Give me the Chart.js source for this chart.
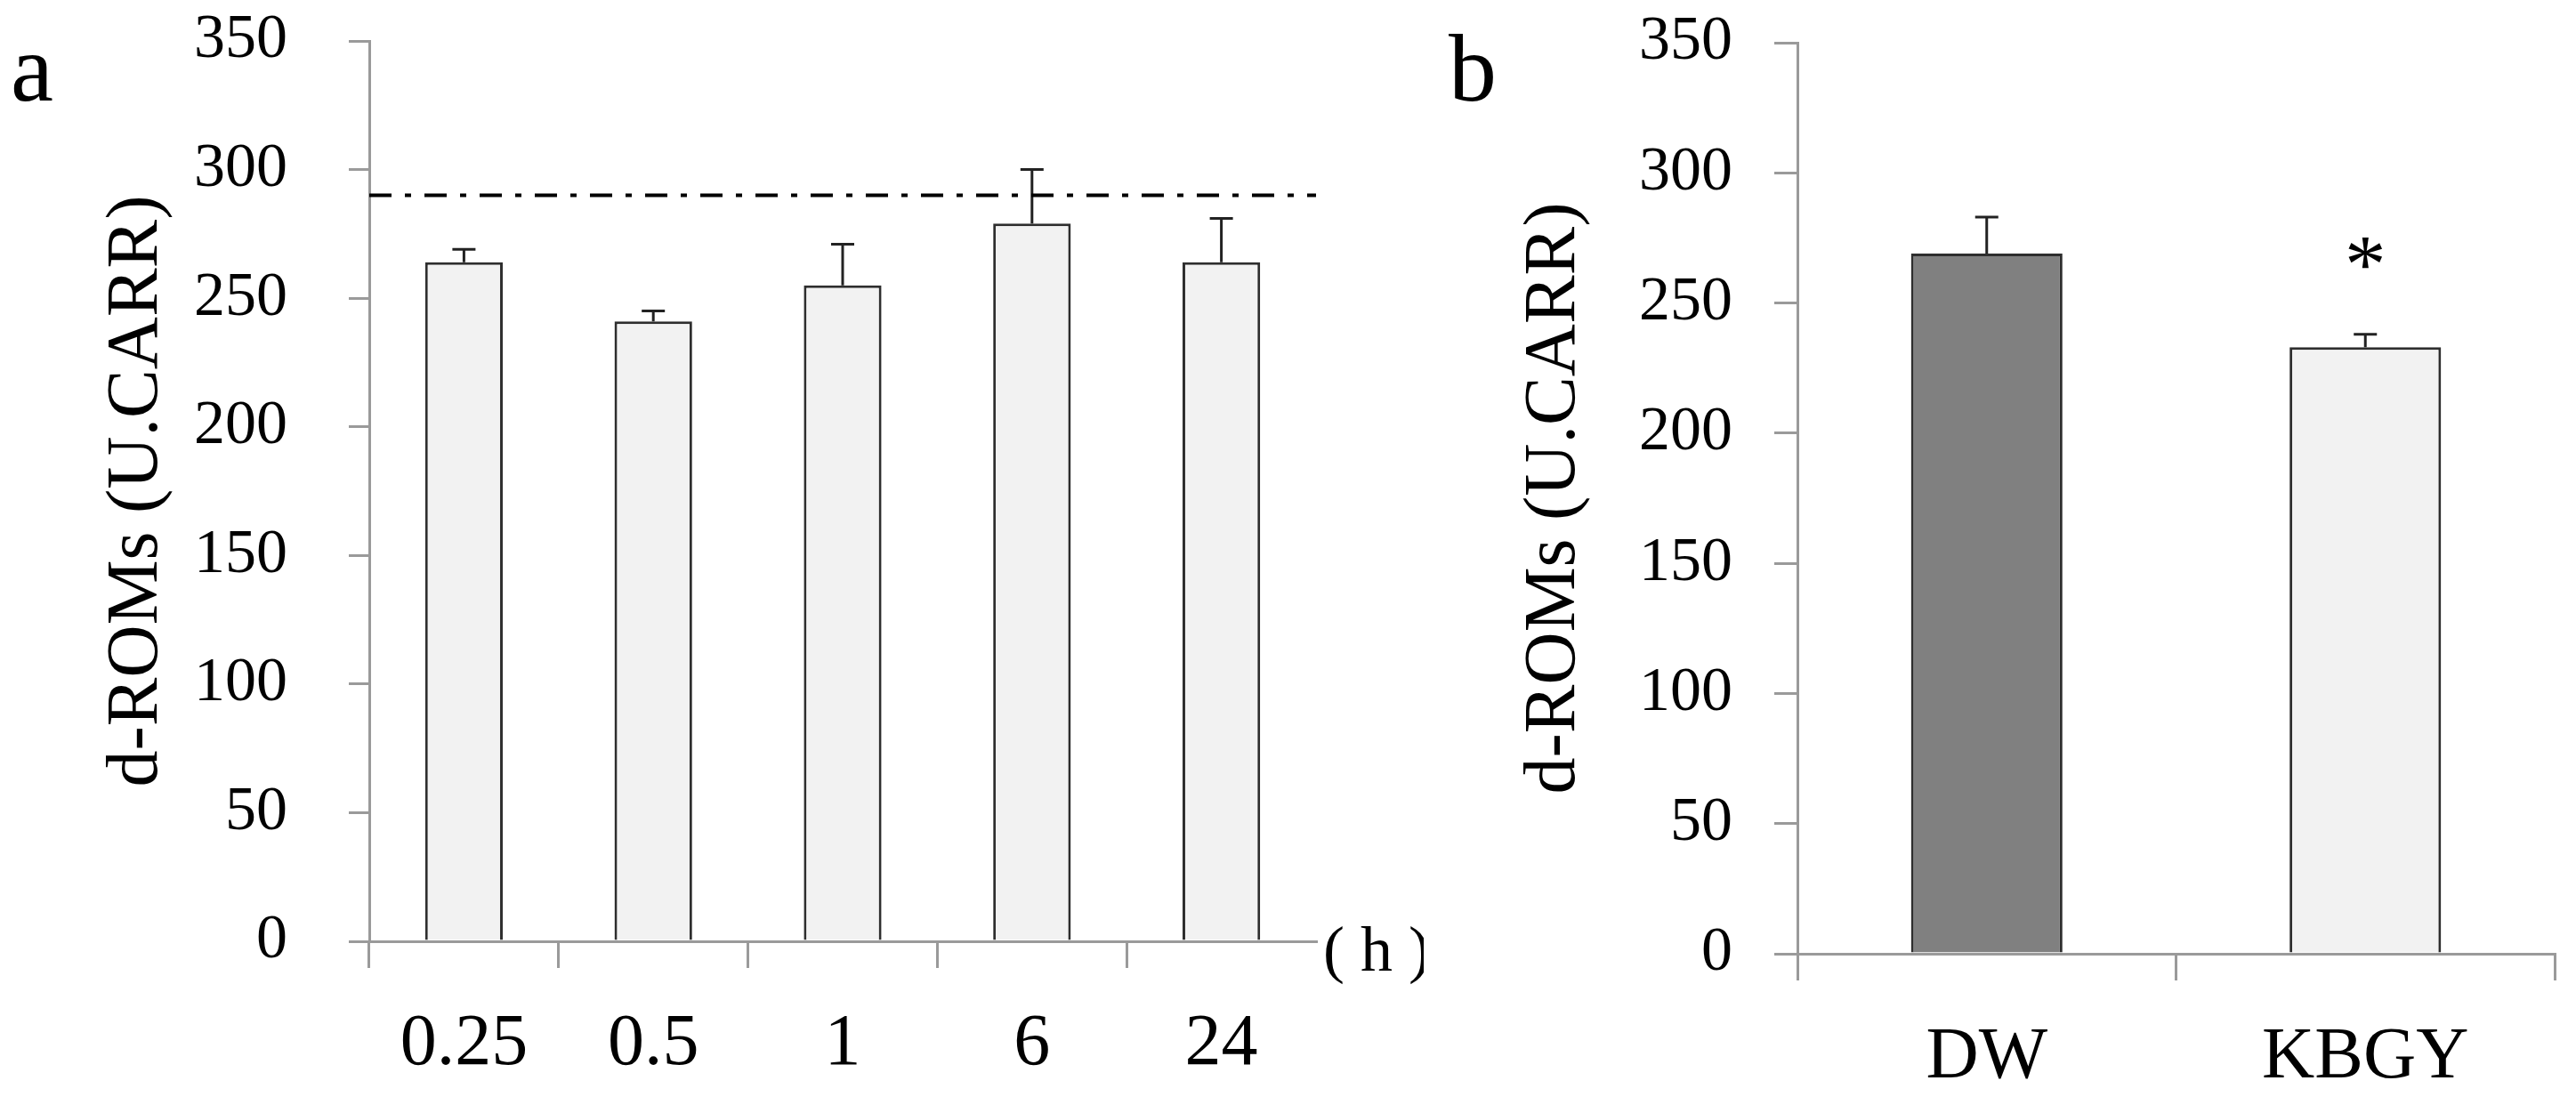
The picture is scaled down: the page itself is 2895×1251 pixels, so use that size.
<!DOCTYPE html>
<html>
<head>
<meta charset="utf-8">
<script src="https://cdn.jsdelivr.net/npm/chart.js@4.4.1/dist/chart.umd.min.js"></script>
<style>
  html, body { margin: 0; padding: 0; background: #fff; }
  #wrap { position: relative; width: 2895px; height: 1251px; background: #fff; }
  canvas { position: absolute; top: 0; }
  #chartA { left: 0; }
  #chartB { left: 1600px; }
</style>
</head>
<body>
<div id="wrap">
  <canvas id="chartA" width="1600" height="1251"></canvas>
  <canvas id="chartB" width="1295" height="1251"></canvas>
</div>
<script>
// panel a: d-ROMs after intake (hours)
const hourLabels = ["0.25", "0.5", "1", "6", "24"];
const hourMeans = [264, 241, 255, 279, 264];
const hourErrors = [5, 4, 16, 21, 17];
const referenceValue = 290;

// panel b: DW vs KBGY
const groupLabels = ["DW", "KBGY"];
const groupMeans = [269, 233];
const groupErrors = [14, 5];
const groupMarks = ["", "*"];
const groupColors = ["#808080", "#f2f2f2"];

// shared y axis
const yMax = 350;
const yStep = 50;
const yTitle = "d-ROMs (U.CARR)";

const serif = "'Liberation Serif', 'Times New Roman', serif";
const axisGray = "#9a9a9a";
const barEdge = "#2e2e2e";

Chart.defaults.font.family = serif;
Chart.defaults.color = "#000";

// error bars (upper only) drawn through the y scale
const errorBars = {
  id: "errorBars",
  afterDatasetsDraw(chart, args, opts) {
    const ctx = chart.ctx;
    const y = chart.scales.y;
    const values = chart.data.datasets[0].data;
    ctx.save();
    ctx.strokeStyle = "#222";
    ctx.lineWidth = 3;
    chart.getDatasetMeta(0).data.forEach((bar, i) => {
      const top = y.getPixelForValue(values[i] + opts.errors[i]);
      ctx.beginPath();
      ctx.moveTo(bar.x, bar.y);
      ctx.lineTo(bar.x, top);
      ctx.moveTo(bar.x - 13, top);
      ctx.lineTo(bar.x + 13, top);
      ctx.stroke();
    });
    ctx.restore();
  }
};

// extras for panel a: reference line, unit, panel letter
const panelAExtras = {
  id: "panelAExtras",
  afterDatasetsDraw(chart) {
    const ctx = chart.ctx;
    const area = chart.chartArea;
    const yPix = chart.scales.y.getPixelForValue(referenceValue);
    ctx.save();
    ctx.strokeStyle = "#000";
    ctx.lineWidth = 4;
    ctx.setLineDash([25, 15, 7, 15]);
    ctx.beginPath();
    ctx.moveTo(area.left, yPix);
    ctx.lineTo(area.right, yPix);
    ctx.stroke();
    ctx.setLineDash([]);

    ctx.fillStyle = "#000";
    ctx.font = "72px " + serif;
    ctx.textAlign = "left";
    ctx.textBaseline = "middle";
    ctx.fillText("( h )", area.right + 8, area.bottom + 14);

    ctx.font = "108px " + serif;
    ctx.textBaseline = "alphabetic";
    ctx.fillText("a", 12, 113);
    ctx.restore();
  }
};

// extras for panel b: significance mark, panel letter
const panelBExtras = {
  id: "panelBExtras",
  afterDatasetsDraw(chart) {
    const ctx = chart.ctx;
    const y = chart.scales.y;
    ctx.save();
    ctx.fillStyle = "#000";
    ctx.textAlign = "center";
    ctx.textBaseline = "middle";
    ctx.font = "93px " + serif;
    chart.getDatasetMeta(0).data.forEach((bar, i) => {
      if (!groupMarks[i]) return;
      const top = y.getPixelForValue(groupMeans[i] + groupErrors[i]);
      ctx.fillText(groupMarks[i], bar.x, top - 72);
    });
    ctx.font = "108px " + serif;
    ctx.textAlign = "left";
    ctx.textBaseline = "alphabetic";
    ctx.fillText("b", 28, 113);
    ctx.restore();
  }
};

function yScale(tickLen, tickPad, titlePad, width) {
  return {
    min: 0,
    max: yMax,
    ticks: { stepSize: yStep, padding: tickPad, color: "#000", font: { size: 70 } },
    grid: { drawOnChartArea: false, tickLength: tickLen, color: axisGray, lineWidth: 3 },
    border: { color: axisGray, width: 3 },
    title: {
      display: true,
      text: yTitle,
      color: "#000",
      font: { size: 82 },
      padding: { top: titlePad, bottom: 0 }
    },
    afterFit(s) {
      s.width = width;
      // keep the tick padding from pushing the plot area down
      s.paddingTop = 0;
      s.paddingBottom = 0;
    }
  };
}

function xScale(tickPad, height, hideLastTick) {
  return {
    ticks: { color: "#000", font: { size: 82 }, padding: tickPad, maxRotation: 0, autoSkip: false },
    grid: {
      drawOnChartArea: false,
      offset: true,
      tickLength: 30,
      lineWidth: 3,
      color: (c) => (hideLastTick && c.type !== "tick") ? "rgba(0,0,0,0)" : axisGray
    },
    border: { color: axisGray, width: 3 },
    afterFit(s) {
      s.height = height;
      s.paddingLeft = 0;
      s.paddingRight = 0;
    }
  };
}

new Chart(document.getElementById("chartA"), {
  type: "bar",
  data: {
    labels: hourLabels,
    datasets: [{
      data: hourMeans,
      backgroundColor: "#f2f2f2",
      borderColor: barEdge,
      borderWidth: 3,
      barPercentage: 0.41,
      categoryPercentage: 1
    }]
  },
  options: {
    responsive: false,
    animation: false,
    layout: { padding: { top: 46, right: 121, left: 0, bottom: 0 } },
    plugins: { legend: { display: false }, tooltip: { enabled: false }, errorBars: { errors: hourErrors } },
    scales: { x: xScale(37, 193, true), y: yScale(23, 69, 105, 415) }
  },
  plugins: [errorBars, panelAExtras]
});

new Chart(document.getElementById("chartB"), {
  type: "bar",
  data: {
    labels: groupLabels,
    datasets: [{
      data: groupMeans,
      backgroundColor: groupColors,
      borderColor: barEdge,
      borderWidth: 3,
      barPercentage: 0.40,
      categoryPercentage: 1
    }]
  },
  options: {
    responsive: false,
    animation: false,
    layout: { padding: { top: 48, right: 24, left: 0, bottom: 0 } },
    plugins: { legend: { display: false }, tooltip: { enabled: false }, errorBars: { errors: groupErrors } },
    scales: { x: xScale(38, 179, false), y: yScale(26, 47, 98, 420) }
  },
  plugins: [errorBars, panelBExtras]
});
</script>
</body>
</html>
